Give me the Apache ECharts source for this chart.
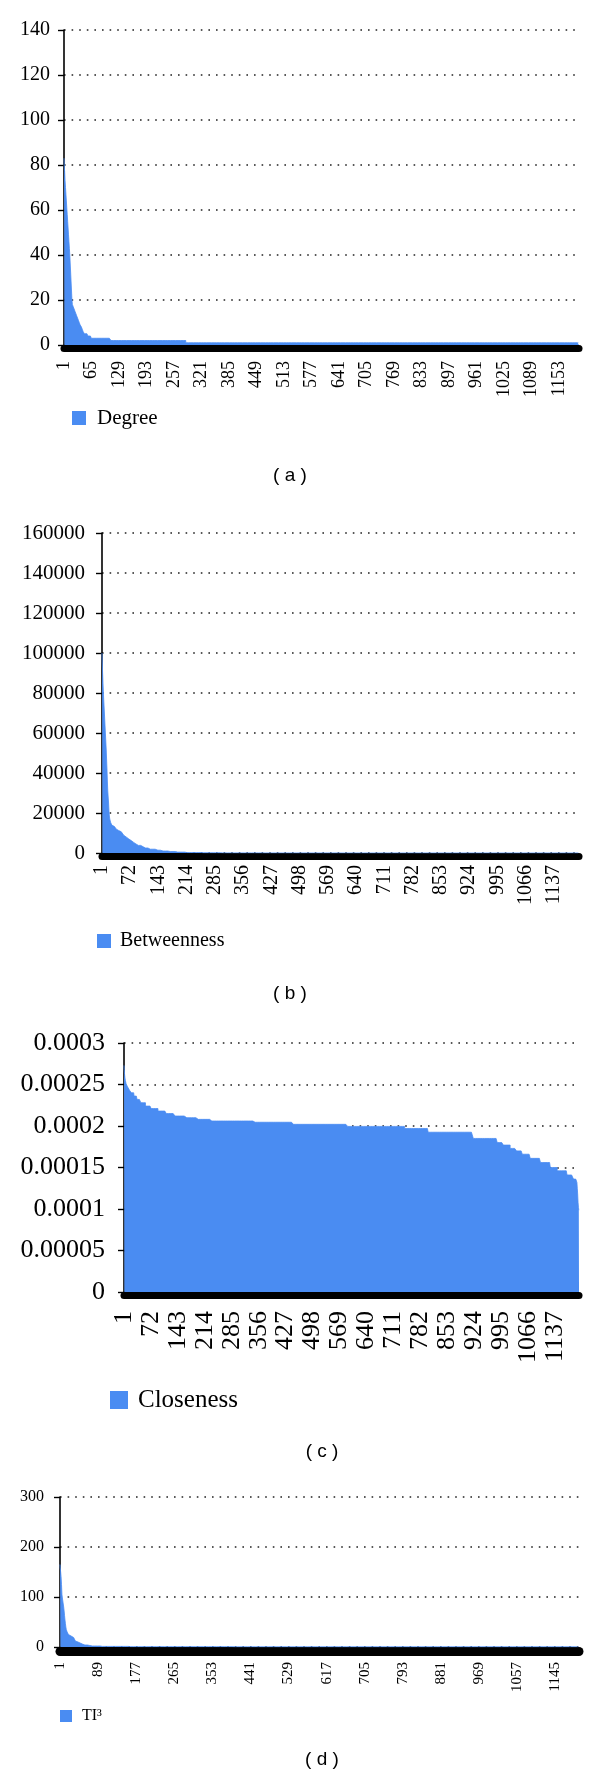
<!DOCTYPE html>
<html>
<head>
<meta charset="utf-8">
<script src="https://cdn.jsdelivr.net/npm/echarts@6/dist/echarts.min.js"></script>
<style>
html,body{margin:0;padding:0;background:#fff;}
#chart{width:600px;height:1778px;}
</style>
</head>
<body>
<div id="chart"></div>
<script>
// ---------- DATA (run-length encoded) ----------
const N = 1200; // number of ranked nodes
const categories = [];
for (let i = 1; i <= N; i++) categories.push(String(i));

// (a) Degree
const degreeHead = [83,80,77,73,70,67,64,61,58,55,52,49,46,43,40,36,32,28,24,20];
const degreeRunValues = [18,17,16,15,14,13,12,11,10,9,8,7,6,5,4,3,2,1];
const degreeRunCounts = [2,2,2,2,2,2,2,2,2,3,2,2,3,8,8,46,174,916];

// (b) Betweenness
const betweenHead = [100000,96000,90000,85000,80000,76000,72000,68000,64000,60000,56000,52000,47000,42000,36000,31000,28000,25000,21000,18500,17000,16000,15400,15000,14500];
const betweenRunValues = [14000,13200,12500,12000,11300,10600,9800,8900,7900,7000,6200,5300,4500,3800,3100,2500,1900,1400,1000,700,450,220,110,50,20,5];
const betweenRunCounts = [3,4,4,4,5,5,5,5,6,6,6,6,6,8,10,12,15,15,20,20,24,36,50,100,200,600];

// (c) Closeness
const closeHead = [0.000273,0.000268,0.000262,0.000258,0.000255,0.000253,0.000251,0.00025,0.000249,0.000248];
const closeRunValues = [0.000246,0.000243,0.00024,0.000236,0.000232,0.000228,0.000224,0.000221,0.000218,0.000215,0.000212,0.00021,0.000208,0.000206,0.0002045,0.000202,0.0001995,0.000197,0.0001925,0.000185,0.00018,0.000177,0.000173,0.00017,0.000166,0.000161,0.000156,0.00015,0.000146,0.000141,0.000136];
const closeRunCounts = [5,5,7,8,10,12,15,18,22,23,25,30,36,114,107,143,150,62,119,63,16,18,17,15,21,27,26,18,26,17,9];
const closeTail = [0.000132,0.000125,0.000118,0.000108,0.000102,0.0000985];

// (d) TI^3
const tiHead = [165,158,150,140,125,105,98,92,86,80,72,63,54,47,40,35,32,30,28,27];
const tiRunValues = [25,22,19,15,12,10,8,6,4,3,2,1.2,0.6,0.3];
const tiRunCounts = [4,4,4,4,4,5,5,6,8,11,20,65,240,800];

// axis tick settings
const yMax = [140, 160000, 0.0003, 300];
const yStep = [20, 20000, 0.00005, 100];
const xLabelEvery = [64, 71, 71, 88];
const seriesNames = ['Degree', 'Betweenness', 'Closeness', 'TI\u00B3'];
const panelTags = ['( a )', '( b )', '( c )', '( d )'];

function expand(head, vals, counts, tail) {
  const out = head.slice();
  vals.forEach((v, k) => { for (let j = 0; j < counts[k]; j++) out.push(v); });
  if (tail) tail.forEach(v => out.push(v));
  return out;
}
const seriesData = [
  expand(degreeHead, degreeRunValues, degreeRunCounts),
  expand(betweenHead, betweenRunValues, betweenRunCounts),
  expand(closeHead, closeRunValues, closeRunCounts, closeTail),
  expand(tiHead, tiRunValues, tiRunCounts)
];

// ---------- LAYOUT ----------
const BLUE = '#4a8cf2';
const SERIF = 'Liberation Serif';
const grids = [
  {left: 64, top: 30, width: 515, height: 315},
  {left: 102, top: 533, width: 477, height: 320},
  {left: 124, top: 1043, width: 455, height: 249},
  {left: 60, top: 1497, width: 519, height: 150}
];
const bandW = [7, 7, 7, 9];
const xFont = [18, 20, 26, 15];
const xGap = [9, 5, 12, 6];
const yFont = [20, 21, 26, 16];
const yMargin = [14, 17, 19, 16];
const legendPos = [
  {left: 72, center: 418, size: 14, font: 21, pad: 6},
  {left: 97, center: 941, size: 14, font: 20, pad: 4},
  {left: 110, center: 1400, size: 18, font: 25, pad: 5},
  {left: 60, center: 1716, size: 12, font: 16, pad: 5}
];
const tagX = [290, 290, 322, 322];
const tagY = [476, 994, 1452, 1760];

const chart = echarts.init(document.getElementById('chart'), null, {renderer: 'canvas'});
const option = {
  animation: false,
  backgroundColor: '#fff',
  grid: grids.map(g => Object.assign({outerBoundsMode: 'none', containLabel: false}, g)),
  xAxis: grids.map((g, i) => ({
    type: 'category', gridIndex: i, data: categories, boundaryGap: false,
    offset: bandW[i] / 2,
    axisLine: {show: true, onZero: false, lineStyle: {color: '#000', width: bandW[i]}},
    axisTick: {show: false},
    splitLine: {show: false},
    axisLabel: {interval: xLabelEvery[i] - 1, rotate: 90, fontFamily: SERIF, fontSize: xFont[i], color: '#000',
      margin: bandW[i] / 2 + xGap[i]}
  })),
  yAxis: grids.map((g, i) => ({
    type: 'value', gridIndex: i, min: 0, max: yMax[i], interval: yStep[i],
    axisLine: {show: true, lineStyle: {color: '#000', width: 1.6}},
    axisTick: {show: true, inside: false, length: 6, lineStyle: {color: '#000', width: 1.4}},
    splitLine: {show: true, lineStyle: {color: '#222', width: 1.6, type: [1.6, 6]}},
    axisLabel: {fontFamily: SERIF, fontSize: yFont[i], color: '#000', margin: yMargin[i],
      formatter: v => String(+v.toFixed(6))}
  })),
  legend: legendPos.map((p, i) => ({
    data: [seriesNames[i]], left: p.left, top: p.center - Math.max(p.size, p.font) / 2, orient: 'horizontal',
    icon: 'rect', itemWidth: p.size, itemHeight: p.size, selectedMode: false, padding: 0,
    textStyle: {fontFamily: SERIF, fontSize: p.font, color: '#000', padding: [0, 0, 0, p.pad]}
  })),
  series: seriesData.map((d, i) => ({
    type: 'line', name: seriesNames[i], xAxisIndex: i, yAxisIndex: i, data: d,
    step: 'middle', symbol: 'none', showSymbol: false, sampling: null,
    lineStyle: {color: BLUE, width: 0.8}, itemStyle: {color: BLUE},
    areaStyle: {color: BLUE, opacity: 1}
  })),
  graphic: panelTags.map((t, i) => ({
    type: 'text', x: tagX[i], y: tagY[i],
    style: {text: t, font: '19px "Liberation Sans"', fill: '#000', align: 'center', verticalAlign: 'middle'}
  }))
};
chart.setOption(option);
</script>
</body>
</html>
